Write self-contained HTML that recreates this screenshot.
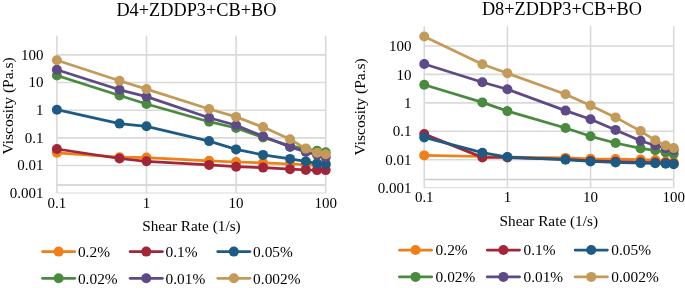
<!DOCTYPE html>
<html><head><meta charset="utf-8"><style>
html,body{margin:0;padding:0;background:#fff;}
svg{display:block;will-change:transform;}
text{font-family:"Liberation Serif", serif;fill:#000;}
</style></head><body>
<svg width="685" height="288" viewBox="0 0 685 288">
<rect width="685" height="288" fill="#fff"/>
<line x1="57.00" y1="54.84" x2="325.90" y2="54.84" stroke="#d9d9d9" stroke-width="1.6"/>
<line x1="57.00" y1="82.52" x2="325.90" y2="82.52" stroke="#d9d9d9" stroke-width="1.6"/>
<line x1="57.00" y1="110.20" x2="325.90" y2="110.20" stroke="#d9d9d9" stroke-width="1.6"/>
<line x1="57.00" y1="137.88" x2="325.90" y2="137.88" stroke="#d9d9d9" stroke-width="1.6"/>
<line x1="57.00" y1="165.56" x2="325.90" y2="165.56" stroke="#d9d9d9" stroke-width="1.6"/>
<line x1="57.00" y1="193.00" x2="325.90" y2="193.00" stroke="#d9d9d9" stroke-width="1.1"/>
<line x1="57.00" y1="185.00" x2="325.90" y2="185.00" stroke="#cccccc" stroke-width="1.5"/>
<line x1="56.90" y1="35.80" x2="56.90" y2="193.00" stroke="#d9d9d9" stroke-width="1.6"/>
<line x1="146.50" y1="35.80" x2="146.50" y2="193.00" stroke="#d9d9d9" stroke-width="1.6"/>
<line x1="236.10" y1="35.80" x2="236.10" y2="193.00" stroke="#d9d9d9" stroke-width="1.6"/>
<line x1="325.70" y1="35.80" x2="325.70" y2="193.00" stroke="#d9d9d9" stroke-width="1.6"/>
<polyline points="56.90,152.80 119.53,157.20 146.50,157.60 209.13,160.80 236.10,162.00 263.07,162.80 290.04,164.00 305.82,164.70 317.02,165.00 325.70,165.30" fill="none" stroke="#EF7F16" stroke-width="2.75" stroke-linejoin="round" stroke-linecap="round"/>
<circle cx="56.90" cy="152.80" r="5.0" fill="#EF7F16"/>
<circle cx="119.53" cy="157.20" r="5.0" fill="#EF7F16"/>
<circle cx="146.50" cy="157.60" r="5.0" fill="#EF7F16"/>
<circle cx="209.13" cy="160.80" r="5.0" fill="#EF7F16"/>
<circle cx="236.10" cy="162.00" r="5.0" fill="#EF7F16"/>
<circle cx="263.07" cy="162.80" r="5.0" fill="#EF7F16"/>
<circle cx="290.04" cy="164.00" r="5.0" fill="#EF7F16"/>
<circle cx="305.82" cy="164.70" r="5.0" fill="#EF7F16"/>
<circle cx="317.02" cy="165.00" r="5.0" fill="#EF7F16"/>
<circle cx="325.70" cy="165.30" r="5.0" fill="#EF7F16"/>
<polyline points="56.90,149.00 119.53,158.50 146.50,161.30 209.13,164.90 236.10,166.70 263.07,167.60 290.04,169.20 305.82,169.90 317.02,170.10 325.70,170.10" fill="none" stroke="#A3253A" stroke-width="2.75" stroke-linejoin="round" stroke-linecap="round"/>
<circle cx="56.90" cy="149.00" r="5.0" fill="#A3253A"/>
<circle cx="119.53" cy="158.50" r="5.0" fill="#A3253A"/>
<circle cx="146.50" cy="161.30" r="5.0" fill="#A3253A"/>
<circle cx="209.13" cy="164.90" r="5.0" fill="#A3253A"/>
<circle cx="236.10" cy="166.70" r="5.0" fill="#A3253A"/>
<circle cx="263.07" cy="167.60" r="5.0" fill="#A3253A"/>
<circle cx="290.04" cy="169.20" r="5.0" fill="#A3253A"/>
<circle cx="305.82" cy="169.90" r="5.0" fill="#A3253A"/>
<circle cx="317.02" cy="170.10" r="5.0" fill="#A3253A"/>
<circle cx="325.70" cy="170.10" r="5.0" fill="#A3253A"/>
<polyline points="56.90,109.70 119.53,123.60 146.50,126.30 209.13,141.10 236.10,149.40 263.07,154.90 290.04,158.90 305.82,161.40 317.02,163.40 325.70,163.90" fill="none" stroke="#1D5B85" stroke-width="2.75" stroke-linejoin="round" stroke-linecap="round"/>
<circle cx="56.90" cy="109.70" r="5.0" fill="#1D5B85"/>
<circle cx="119.53" cy="123.60" r="5.0" fill="#1D5B85"/>
<circle cx="146.50" cy="126.30" r="5.0" fill="#1D5B85"/>
<circle cx="209.13" cy="141.10" r="5.0" fill="#1D5B85"/>
<circle cx="236.10" cy="149.40" r="5.0" fill="#1D5B85"/>
<circle cx="263.07" cy="154.90" r="5.0" fill="#1D5B85"/>
<circle cx="290.04" cy="158.90" r="5.0" fill="#1D5B85"/>
<circle cx="305.82" cy="161.40" r="5.0" fill="#1D5B85"/>
<circle cx="317.02" cy="163.40" r="5.0" fill="#1D5B85"/>
<circle cx="325.70" cy="163.90" r="5.0" fill="#1D5B85"/>
<polyline points="56.90,75.50 119.53,95.50 146.50,104.00 209.13,121.70 236.10,128.00 263.07,137.40 290.04,145.80 305.82,148.90 317.02,150.80 325.70,152.20" fill="none" stroke="#4A8A3F" stroke-width="2.75" stroke-linejoin="round" stroke-linecap="round"/>
<circle cx="56.90" cy="75.50" r="5.0" fill="#4A8A3F"/>
<circle cx="119.53" cy="95.50" r="5.0" fill="#4A8A3F"/>
<circle cx="146.50" cy="104.00" r="5.0" fill="#4A8A3F"/>
<circle cx="209.13" cy="121.70" r="5.0" fill="#4A8A3F"/>
<circle cx="236.10" cy="128.00" r="5.0" fill="#4A8A3F"/>
<circle cx="263.07" cy="137.40" r="5.0" fill="#4A8A3F"/>
<circle cx="290.04" cy="145.80" r="5.0" fill="#4A8A3F"/>
<circle cx="305.82" cy="148.90" r="5.0" fill="#4A8A3F"/>
<circle cx="317.02" cy="150.80" r="5.0" fill="#4A8A3F"/>
<circle cx="325.70" cy="152.20" r="5.0" fill="#4A8A3F"/>
<polyline points="56.90,69.70 119.53,89.80 146.50,96.60 209.13,117.70 236.10,125.20 263.07,136.30 290.04,146.90 305.82,152.00 317.02,154.80 325.70,157.30" fill="none" stroke="#5E4A86" stroke-width="2.75" stroke-linejoin="round" stroke-linecap="round"/>
<circle cx="56.90" cy="69.70" r="5.0" fill="#5E4A86"/>
<circle cx="119.53" cy="89.80" r="5.0" fill="#5E4A86"/>
<circle cx="146.50" cy="96.60" r="5.0" fill="#5E4A86"/>
<circle cx="209.13" cy="117.70" r="5.0" fill="#5E4A86"/>
<circle cx="236.10" cy="125.20" r="5.0" fill="#5E4A86"/>
<circle cx="263.07" cy="136.30" r="5.0" fill="#5E4A86"/>
<circle cx="290.04" cy="146.90" r="5.0" fill="#5E4A86"/>
<circle cx="305.82" cy="152.00" r="5.0" fill="#5E4A86"/>
<circle cx="317.02" cy="154.80" r="5.0" fill="#5E4A86"/>
<circle cx="325.70" cy="157.30" r="5.0" fill="#5E4A86"/>
<polyline points="56.90,60.20 119.53,80.80 146.50,89.10 209.13,109.00 236.10,116.90 263.07,127.10 290.04,139.30 305.82,148.60 317.02,152.70 325.70,154.30" fill="none" stroke="#C49A58" stroke-width="2.75" stroke-linejoin="round" stroke-linecap="round"/>
<circle cx="56.90" cy="60.20" r="5.0" fill="#C49A58"/>
<circle cx="119.53" cy="80.80" r="5.0" fill="#C49A58"/>
<circle cx="146.50" cy="89.10" r="5.0" fill="#C49A58"/>
<circle cx="209.13" cy="109.00" r="5.0" fill="#C49A58"/>
<circle cx="236.10" cy="116.90" r="5.0" fill="#C49A58"/>
<circle cx="263.07" cy="127.10" r="5.0" fill="#C49A58"/>
<circle cx="290.04" cy="139.30" r="5.0" fill="#C49A58"/>
<circle cx="305.82" cy="148.60" r="5.0" fill="#C49A58"/>
<circle cx="317.02" cy="152.70" r="5.0" fill="#C49A58"/>
<circle cx="325.70" cy="154.30" r="5.0" fill="#C49A58"/>
<text transform="translate(196.40,16.00) scale(1,1.001)" font-size="18.3" text-anchor="middle">D4+ZDDP3+CB+BO</text>
<text transform="translate(43.50,59.59) scale(1,1.001)" font-size="15" text-anchor="end">100</text>
<text transform="translate(43.50,87.27) scale(1,1.001)" font-size="15" text-anchor="end">10</text>
<text transform="translate(43.50,114.95) scale(1,1.001)" font-size="15" text-anchor="end">1</text>
<text transform="translate(43.50,142.63) scale(1,1.001)" font-size="15" text-anchor="end">0.1</text>
<text transform="translate(43.50,170.31) scale(1,1.001)" font-size="15" text-anchor="end">0.01</text>
<text transform="translate(43.50,197.75) scale(1,1.001)" font-size="15" text-anchor="end">0.001</text>
<text transform="translate(56.90,207.50) scale(1,1.001)" font-size="15" text-anchor="middle">0.1</text>
<text transform="translate(146.50,207.50) scale(1,1.001)" font-size="15" text-anchor="middle">1</text>
<text transform="translate(236.10,207.50) scale(1,1.001)" font-size="15" text-anchor="middle">10</text>
<text transform="translate(325.70,207.50) scale(1,1.001)" font-size="15" text-anchor="middle">100</text>
<text transform="translate(191.45,231.40) scale(1,1.001)" font-size="15.3" text-anchor="middle">Shear Rate (1/s)</text>
<text transform="translate(12.60,106.00) rotate(-90) scale(1,1.001)" font-size="15.5" text-anchor="middle">Viscosity (Pa.s)</text>
<line x1="42.50" y1="251.60" x2="74.80" y2="251.60" stroke="#EF7F16" stroke-width="2.75" stroke-linecap="round"/>
<circle cx="58.65" cy="251.60" r="5.0" fill="#EF7F16"/>
<text transform="translate(77.90,256.70) scale(1,1.001)" font-size="15.4">0.2%</text>
<line x1="130.10" y1="251.60" x2="162.40" y2="251.60" stroke="#A3253A" stroke-width="2.75" stroke-linecap="round"/>
<circle cx="146.25" cy="251.60" r="5.0" fill="#A3253A"/>
<text transform="translate(165.50,256.70) scale(1,1.001)" font-size="15.4">0.1%</text>
<line x1="217.70" y1="251.60" x2="250.00" y2="251.60" stroke="#1D5B85" stroke-width="2.75" stroke-linecap="round"/>
<circle cx="233.85" cy="251.60" r="5.0" fill="#1D5B85"/>
<text transform="translate(253.10,256.70) scale(1,1.001)" font-size="15.4">0.05%</text>
<line x1="42.50" y1="278.30" x2="74.80" y2="278.30" stroke="#4A8A3F" stroke-width="2.75" stroke-linecap="round"/>
<circle cx="58.65" cy="278.30" r="5.0" fill="#4A8A3F"/>
<text transform="translate(77.90,283.90) scale(1,1.001)" font-size="15.4">0.02%</text>
<line x1="130.10" y1="278.30" x2="162.40" y2="278.30" stroke="#5E4A86" stroke-width="2.75" stroke-linecap="round"/>
<circle cx="146.25" cy="278.30" r="5.0" fill="#5E4A86"/>
<text transform="translate(165.50,283.90) scale(1,1.001)" font-size="15.4">0.01%</text>
<line x1="217.70" y1="278.30" x2="250.00" y2="278.30" stroke="#C49A58" stroke-width="2.75" stroke-linecap="round"/>
<circle cx="233.85" cy="278.30" r="5.0" fill="#C49A58"/>
<text transform="translate(253.10,283.90) scale(1,1.001)" font-size="15.4">0.002%</text>
<line x1="424.00" y1="45.95" x2="673.60" y2="45.95" stroke="#d9d9d9" stroke-width="1.6"/>
<line x1="424.00" y1="74.40" x2="673.60" y2="74.40" stroke="#d9d9d9" stroke-width="1.6"/>
<line x1="424.00" y1="102.85" x2="673.60" y2="102.85" stroke="#d9d9d9" stroke-width="1.6"/>
<line x1="424.00" y1="131.30" x2="673.60" y2="131.30" stroke="#d9d9d9" stroke-width="1.6"/>
<line x1="424.00" y1="159.75" x2="673.60" y2="159.75" stroke="#d9d9d9" stroke-width="1.6"/>
<line x1="424.00" y1="187.75" x2="673.60" y2="187.75" stroke="#d9d9d9" stroke-width="1.1"/>
<line x1="424.00" y1="179.60" x2="673.60" y2="179.60" stroke="#cccccc" stroke-width="1.5"/>
<line x1="424.25" y1="26.20" x2="424.25" y2="187.75" stroke="#d9d9d9" stroke-width="1.6"/>
<line x1="507.40" y1="26.20" x2="507.40" y2="187.75" stroke="#d9d9d9" stroke-width="1.6"/>
<line x1="590.55" y1="26.20" x2="590.55" y2="187.75" stroke="#d9d9d9" stroke-width="1.6"/>
<line x1="673.70" y1="26.20" x2="673.70" y2="187.75" stroke="#d9d9d9" stroke-width="1.6"/>
<polyline points="424.25,155.40 482.37,156.50 507.40,157.00 565.52,157.90 590.55,158.80 615.58,159.10 640.61,159.60 655.25,160.10 665.64,161.50 673.70,162.30" fill="none" stroke="#EF7F16" stroke-width="2.75" stroke-linejoin="round" stroke-linecap="round"/>
<circle cx="424.25" cy="155.40" r="5.0" fill="#EF7F16"/>
<circle cx="482.37" cy="156.50" r="5.0" fill="#EF7F16"/>
<circle cx="507.40" cy="157.00" r="5.0" fill="#EF7F16"/>
<circle cx="565.52" cy="157.90" r="5.0" fill="#EF7F16"/>
<circle cx="590.55" cy="158.80" r="5.0" fill="#EF7F16"/>
<circle cx="615.58" cy="159.10" r="5.0" fill="#EF7F16"/>
<circle cx="640.61" cy="159.60" r="5.0" fill="#EF7F16"/>
<circle cx="655.25" cy="160.10" r="5.0" fill="#EF7F16"/>
<circle cx="665.64" cy="161.50" r="5.0" fill="#EF7F16"/>
<circle cx="673.70" cy="162.30" r="5.0" fill="#EF7F16"/>
<polyline points="424.25,134.10 482.37,157.40 507.40,157.50 565.52,159.30 590.55,160.90 615.58,161.70 640.61,162.30 655.25,162.60 665.64,163.10 673.70,163.80" fill="none" stroke="#A3253A" stroke-width="2.75" stroke-linejoin="round" stroke-linecap="round"/>
<circle cx="424.25" cy="134.10" r="5.0" fill="#A3253A"/>
<circle cx="482.37" cy="157.40" r="5.0" fill="#A3253A"/>
<circle cx="507.40" cy="157.50" r="5.0" fill="#A3253A"/>
<circle cx="565.52" cy="159.30" r="5.0" fill="#A3253A"/>
<circle cx="590.55" cy="160.90" r="5.0" fill="#A3253A"/>
<circle cx="615.58" cy="161.70" r="5.0" fill="#A3253A"/>
<circle cx="640.61" cy="162.30" r="5.0" fill="#A3253A"/>
<circle cx="655.25" cy="162.60" r="5.0" fill="#A3253A"/>
<circle cx="665.64" cy="163.10" r="5.0" fill="#A3253A"/>
<circle cx="673.70" cy="163.80" r="5.0" fill="#A3253A"/>
<polyline points="424.25,137.40 482.37,152.70 507.40,157.00 565.52,159.70 590.55,161.50 615.58,162.40 640.61,163.10 655.25,163.30 665.64,163.70 673.70,164.20" fill="none" stroke="#1D5B85" stroke-width="2.75" stroke-linejoin="round" stroke-linecap="round"/>
<circle cx="424.25" cy="137.40" r="5.0" fill="#1D5B85"/>
<circle cx="482.37" cy="152.70" r="5.0" fill="#1D5B85"/>
<circle cx="507.40" cy="157.00" r="5.0" fill="#1D5B85"/>
<circle cx="565.52" cy="159.70" r="5.0" fill="#1D5B85"/>
<circle cx="590.55" cy="161.50" r="5.0" fill="#1D5B85"/>
<circle cx="615.58" cy="162.40" r="5.0" fill="#1D5B85"/>
<circle cx="640.61" cy="163.10" r="5.0" fill="#1D5B85"/>
<circle cx="655.25" cy="163.30" r="5.0" fill="#1D5B85"/>
<circle cx="665.64" cy="163.70" r="5.0" fill="#1D5B85"/>
<circle cx="673.70" cy="164.20" r="5.0" fill="#1D5B85"/>
<polyline points="424.25,84.80 482.37,102.40 507.40,111.10 565.52,128.00 590.55,136.30 615.58,143.00 640.61,148.40 655.25,150.30 665.64,152.40 673.70,154.10" fill="none" stroke="#4A8A3F" stroke-width="2.75" stroke-linejoin="round" stroke-linecap="round"/>
<circle cx="424.25" cy="84.80" r="5.0" fill="#4A8A3F"/>
<circle cx="482.37" cy="102.40" r="5.0" fill="#4A8A3F"/>
<circle cx="507.40" cy="111.10" r="5.0" fill="#4A8A3F"/>
<circle cx="565.52" cy="128.00" r="5.0" fill="#4A8A3F"/>
<circle cx="590.55" cy="136.30" r="5.0" fill="#4A8A3F"/>
<circle cx="615.58" cy="143.00" r="5.0" fill="#4A8A3F"/>
<circle cx="640.61" cy="148.40" r="5.0" fill="#4A8A3F"/>
<circle cx="655.25" cy="150.30" r="5.0" fill="#4A8A3F"/>
<circle cx="665.64" cy="152.40" r="5.0" fill="#4A8A3F"/>
<circle cx="673.70" cy="154.10" r="5.0" fill="#4A8A3F"/>
<polyline points="424.25,64.00 482.37,82.30 507.40,89.25 565.52,110.60 590.55,119.30 615.58,129.90 640.61,140.70 655.25,145.50 665.64,148.10 673.70,150.10" fill="none" stroke="#5E4A86" stroke-width="2.75" stroke-linejoin="round" stroke-linecap="round"/>
<circle cx="424.25" cy="64.00" r="5.0" fill="#5E4A86"/>
<circle cx="482.37" cy="82.30" r="5.0" fill="#5E4A86"/>
<circle cx="507.40" cy="89.25" r="5.0" fill="#5E4A86"/>
<circle cx="565.52" cy="110.60" r="5.0" fill="#5E4A86"/>
<circle cx="590.55" cy="119.30" r="5.0" fill="#5E4A86"/>
<circle cx="615.58" cy="129.90" r="5.0" fill="#5E4A86"/>
<circle cx="640.61" cy="140.70" r="5.0" fill="#5E4A86"/>
<circle cx="655.25" cy="145.50" r="5.0" fill="#5E4A86"/>
<circle cx="665.64" cy="148.10" r="5.0" fill="#5E4A86"/>
<circle cx="673.70" cy="150.10" r="5.0" fill="#5E4A86"/>
<polyline points="424.25,36.50 482.37,64.25 507.40,73.30 565.52,94.25 590.55,105.40 615.58,117.40 640.61,131.10 655.25,140.30 665.64,145.50 673.70,148.10" fill="none" stroke="#C49A58" stroke-width="2.75" stroke-linejoin="round" stroke-linecap="round"/>
<circle cx="424.25" cy="36.50" r="5.0" fill="#C49A58"/>
<circle cx="482.37" cy="64.25" r="5.0" fill="#C49A58"/>
<circle cx="507.40" cy="73.30" r="5.0" fill="#C49A58"/>
<circle cx="565.52" cy="94.25" r="5.0" fill="#C49A58"/>
<circle cx="590.55" cy="105.40" r="5.0" fill="#C49A58"/>
<circle cx="615.58" cy="117.40" r="5.0" fill="#C49A58"/>
<circle cx="640.61" cy="131.10" r="5.0" fill="#C49A58"/>
<circle cx="655.25" cy="140.30" r="5.0" fill="#C49A58"/>
<circle cx="665.64" cy="145.50" r="5.0" fill="#C49A58"/>
<circle cx="673.70" cy="148.10" r="5.0" fill="#C49A58"/>
<text transform="translate(561.90,15.40) scale(1,1.001)" font-size="18.3" text-anchor="middle">D8+ZDDP3+CB+BO</text>
<text transform="translate(411.40,51.10) scale(1,1.001)" font-size="15" text-anchor="end">100</text>
<text transform="translate(411.40,79.55) scale(1,1.001)" font-size="15" text-anchor="end">10</text>
<text transform="translate(411.40,108.00) scale(1,1.001)" font-size="15" text-anchor="end">1</text>
<text transform="translate(411.40,136.45) scale(1,1.001)" font-size="15" text-anchor="end">0.1</text>
<text transform="translate(411.40,164.90) scale(1,1.001)" font-size="15" text-anchor="end">0.01</text>
<text transform="translate(411.40,192.90) scale(1,1.001)" font-size="15" text-anchor="end">0.001</text>
<text transform="translate(424.25,202.40) scale(1,1.001)" font-size="15" text-anchor="middle">0.1</text>
<text transform="translate(507.40,202.40) scale(1,1.001)" font-size="15" text-anchor="middle">1</text>
<text transform="translate(590.55,202.40) scale(1,1.001)" font-size="15" text-anchor="middle">10</text>
<text transform="translate(673.70,202.40) scale(1,1.001)" font-size="15" text-anchor="middle">100</text>
<text transform="translate(548.80,226.30) scale(1,1.001)" font-size="15.3" text-anchor="middle">Shear Rate (1/s)</text>
<text transform="translate(365.00,106.90) rotate(-90) scale(1,1.001)" font-size="15.5" text-anchor="middle">Viscosity (Pa.s)</text>
<line x1="399.40" y1="250.00" x2="431.70" y2="250.00" stroke="#EF7F16" stroke-width="2.75" stroke-linecap="round"/>
<circle cx="415.55" cy="250.00" r="5.0" fill="#EF7F16"/>
<text transform="translate(435.60,255.10) scale(1,1.001)" font-size="15.4">0.2%</text>
<line x1="487.25" y1="250.00" x2="519.55" y2="250.00" stroke="#A3253A" stroke-width="2.75" stroke-linecap="round"/>
<circle cx="503.40" cy="250.00" r="5.0" fill="#A3253A"/>
<text transform="translate(523.45,255.10) scale(1,1.001)" font-size="15.4">0.1%</text>
<line x1="575.10" y1="250.00" x2="607.40" y2="250.00" stroke="#1D5B85" stroke-width="2.75" stroke-linecap="round"/>
<circle cx="591.25" cy="250.00" r="5.0" fill="#1D5B85"/>
<text transform="translate(611.30,255.10) scale(1,1.001)" font-size="15.4">0.05%</text>
<line x1="399.40" y1="276.90" x2="431.70" y2="276.90" stroke="#4A8A3F" stroke-width="2.75" stroke-linecap="round"/>
<circle cx="415.55" cy="276.90" r="5.0" fill="#4A8A3F"/>
<text transform="translate(435.60,281.80) scale(1,1.001)" font-size="15.4">0.02%</text>
<line x1="487.25" y1="276.90" x2="519.55" y2="276.90" stroke="#5E4A86" stroke-width="2.75" stroke-linecap="round"/>
<circle cx="503.40" cy="276.90" r="5.0" fill="#5E4A86"/>
<text transform="translate(523.45,281.80) scale(1,1.001)" font-size="15.4">0.01%</text>
<line x1="575.10" y1="276.90" x2="607.40" y2="276.90" stroke="#C49A58" stroke-width="2.75" stroke-linecap="round"/>
<circle cx="591.25" cy="276.90" r="5.0" fill="#C49A58"/>
<text transform="translate(611.30,281.80) scale(1,1.001)" font-size="15.4">0.002%</text>
</svg>
</body></html>
